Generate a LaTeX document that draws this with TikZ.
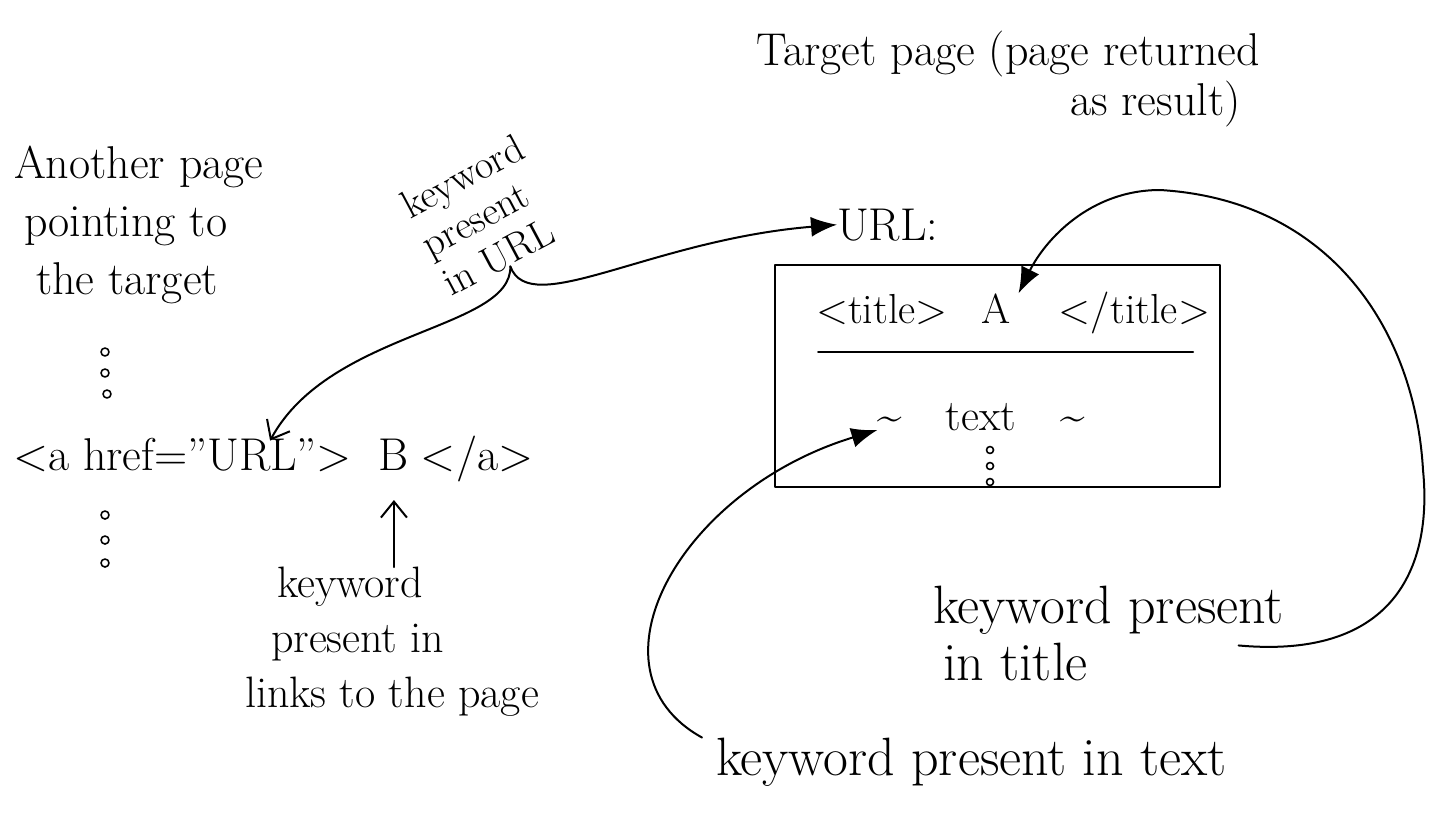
\documentclass[tikz,border=0pt]{standalone}
\usepackage{fontspec}
\usetikzlibrary{arrows.meta}
\begin{document}
\begin{tikzpicture}[x=1pt,y=-1pt,line cap=round,line join=round,
  hand/.style={inner sep=0pt,outer sep=0pt,font=\fontsize{46}{58}\selectfont},
  fsbig/.style={font=\fontsize{54}{57}\selectfont},
  fsmid/.style={font=\fontsize{44}{55}\selectfont},
  fsbox/.style={font=\fontsize{42}{50}\selectfont},
  fsurl/.style={font=\fontsize{40}{44}\selectfont},
  boxst/.style={draw,line width=2.2pt,inner sep=0pt},
  fillarrow/.style={line width=2pt,-{Latex[length=26pt,width=20pt]}},
  barb/.style={line width=2pt,-{Straight Barb[length=16pt,width=26pt,line width=2pt]}},
  dotst/.style={line width=1.6pt}]
\useasboundingbox (0,0) rectangle (1429,812);
\fill[white] (0,0) rectangle (1429,812);

% title
\node[hand,anchor=base west] (target1) at (756,65) {Target page (page returned};
\node[hand,anchor=base west] (target2) at (1070,115) {as result)};

% other page
\node[hand,align=left,anchor=north west] (another) at (14,146)
  {Another page\\\hspace*{10pt}pointing to\\\hspace*{22pt}the target};
\draw[dotst] (105,352) circle (4) (105,373) circle (4) (107,394) circle (4);

% link line
\node[hand,anchor=base west] (hrefopen) at (13,470) {<a href="};
\node[hand,anchor=base west] (hrefurl) at (hrefopen.base east) {URL};
\node[hand,anchor=base west] (hrefclose) at (hrefurl.base east) {">};
\node[hand,anchor=base west] (B) at ([xshift=27pt]hrefclose.base east) {B};
\node[hand,anchor=base west] (aclose) at ([xshift=12pt]B.base east) {</a>};
\draw[dotst] (105,515) circle (4) (105,540) circle (4) (105,563) circle (4);

% keyword in URL
\node[hand,fsurl,align=left,rotate=28] (kwurl) at (483,215) {keyword\\present\\in URL};

% keyword in links
\node[hand,fsmid,align=left,anchor=north west] (kwlinks) at (245,567)
  {\hspace*{32pt}keyword\\\hspace*{26pt}present in\\links to the page};

% target page
\node[hand,anchor=base west] (url) at (837,240) {URL:};
\node[boxst,minimum width=445pt,minimum height=222pt] (page) at (997.5,376) {};
\node[hand,fsbox,anchor=base west] (topen) at (816,323) {<title>};
\node[hand,fsbox,anchor=base] (A) at (996,323) {A};
\node[hand,fsbox,anchor=base east] (tclose) at (1210,323) {</title>};
\coordinate (divL) at (818,352);
\coordinate (divR) at (1193,352);
\draw[line width=2pt] (divL) -- (divR);
\node[hand,fsmid,anchor=base] (textline) at (981,430) {\textasciitilde\quad text\quad\textasciitilde};
\draw[dotst] (990,450) circle (3.5) (990,466) circle (3.5) (990,482) circle (3.5);

% labels bottom right
\node[hand,fsbig,align=left,anchor=north west] (kwtitle) at (933,586)
  {keyword present\\\hspace*{10pt}in title};
\node[hand,fsbig,anchor=base west] (kwtext) at (716,775) {keyword present in text};

% connectors
\draw[barb] (kwurl.south) .. controls (512,330) and (330,330) .. ([xshift=18pt,yshift=-2pt]hrefurl.north);
\draw[fillarrow] (kwurl.south) .. controls (530,320) and (650,240) .. (url.west);
\draw[barb,shorten >=30pt] (B.south |- kwlinks.north) -- (B.south);
\draw[fillarrow] ([xshift=-45pt,yshift=-12pt]kwtitle.east) .. controls (1400,660) and (1432,560) .. (1423,470)
  .. controls (1415,330) and (1330,200) .. (1160,190)
  .. controls (1090,190) and (1045,240) .. ([xshift=8pt]A.north east);
\draw[fillarrow] ([xshift=-14pt]kwtext.north west) .. controls (580,670) and (680,490) .. (textline.base west);
\end{tikzpicture}
\end{document}
